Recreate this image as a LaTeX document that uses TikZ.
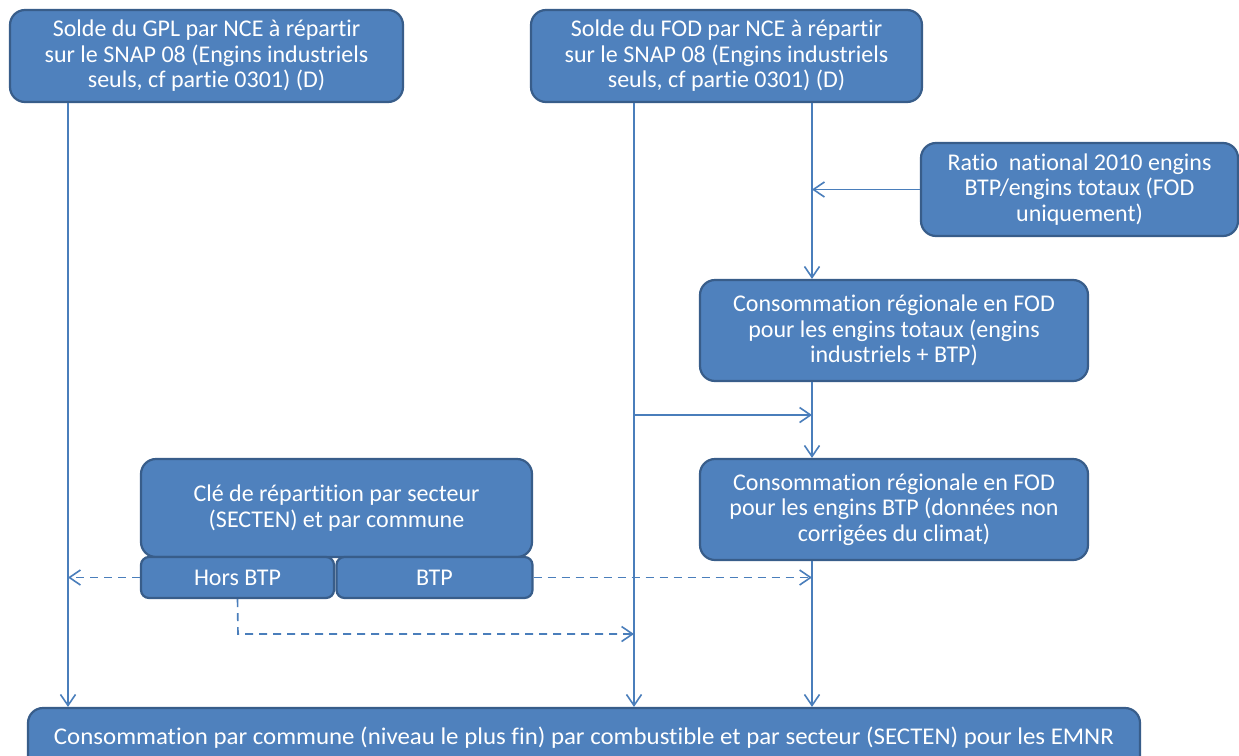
\documentclass[tikz,border=0pt]{standalone}
\usepackage{fontspec}
\setmainfont{Carlito}[Ligatures={NoCommon}]
\usetikzlibrary{arrows.meta}
\definecolor{boxfill}{HTML}{4F81BD}
\definecolor{boxedge}{HTML}{385D8A}
\definecolor{wire}{HTML}{4A7EBB}
\tikzset{
  box/.style={draw=boxedge, line width=2.2pt, fill=boxfill, rounded corners=15pt,
    text=white, align=center, inner sep=0pt,
    font=\fontsize{24pt}{25.5pt}\selectfont},
  tab/.style={box, rounded corners=8pt},
  flow/.style={draw=wire, line width=1.6pt, -{Straight Barb[length=11pt,width=15pt,line width=1.6pt]}},
  keyflow/.style={flow, dash pattern=on 8pt off 6pt},
}
\begin{document}
\begin{tikzpicture}[x=1pt,y=-1pt]
\clip (0,0) rectangle (1239,755);
\fill[white] (0,0) rectangle (1239,755);

% source boxes
\node[box, minimum width=393pt, minimum height=92pt] (gpl) at (206.5,56)
  {Solde du GPL par NCE à répartir\\sur le SNAP 08 (Engins industriels\\seuls, cf partie 0301) (D)};
\node[box, minimum width=391pt, minimum height=92pt] (fod) at (726.5,56)
  {Solde du FOD par NCE à répartir\\sur le SNAP 08 (Engins industriels\\seuls, cf partie 0301) (D)};
\node[box, minimum width=317pt, minimum height=93pt] (ratio) at (1079.5,189.5)
  {Ratio\ \ national 2010 engins\\BTP/engins totaux (FOD\\uniquement)};

% regional FOD consumption
\node[box, minimum width=388pt, minimum height=101pt] (tot) at (894,330.5)
  {Consommation régionale en FOD\\pour les engins totaux (engins\\industriels + BTP)};
\node[box, minimum width=388pt, minimum height=101pt] (btpc) at (894,509.5)
  {Consommation régionale en FOD\\pour les engins BTP (données non\\corrigées du climat)};

% distribution key with its two parts
\node[box, minimum width=391pt, minimum height=98pt] (key) at (336.5,508)
  {Clé de répartition par secteur\\(SECTEN) et par commune};
\node[tab, minimum width=193pt, minimum height=41pt] (hors) at (237.5,577.5) {Hors BTP};
\node[tab, minimum width=196pt, minimum height=41pt] (btp) at (434.5,577.5) {BTP};

% final result
\node[box, minimum width=1112pt, minimum height=64pt] (out) at (584,740)
  {\raisebox{9pt}{\resizebox{1060pt}{\height}{Consommation par commune (niveau le plus fin) par combustible et par secteur (SECTEN) pour les EMNR}}};

% vertical trunks
\coordinate (xl) at (68,0);
\coordinate (xm) at (634,0);
\coordinate (xr) at (812,0);
\coordinate (split) at (634,415);
\coordinate (horsdown) at (238,634);

\draw[flow] (gpl.south -| xl) -- (out.north -| xl);
\draw[flow] (fod.south -| xm) -- (out.north -| xm);
\draw[flow] (fod.south -| xr) -- (tot.north -| xr);
\draw[flow] (ratio.west) -- (ratio.west -| xr);
\draw[flow] (tot.south -| xr) -- (btpc.north -| xr);
\draw[flow] (split) -- (split -| xr);
\draw[flow] (btpc.south -| xr) -- (out.north -| xr);

% dashed links from the key
\draw[keyflow] (hors.west) -- (hors.west -| xl);
\draw[keyflow] (btp.east) -- (btp.east -| xr);
\draw[keyflow] (hors.south) -- (horsdown) -- (horsdown -| xm);
\end{tikzpicture}
\end{document}
